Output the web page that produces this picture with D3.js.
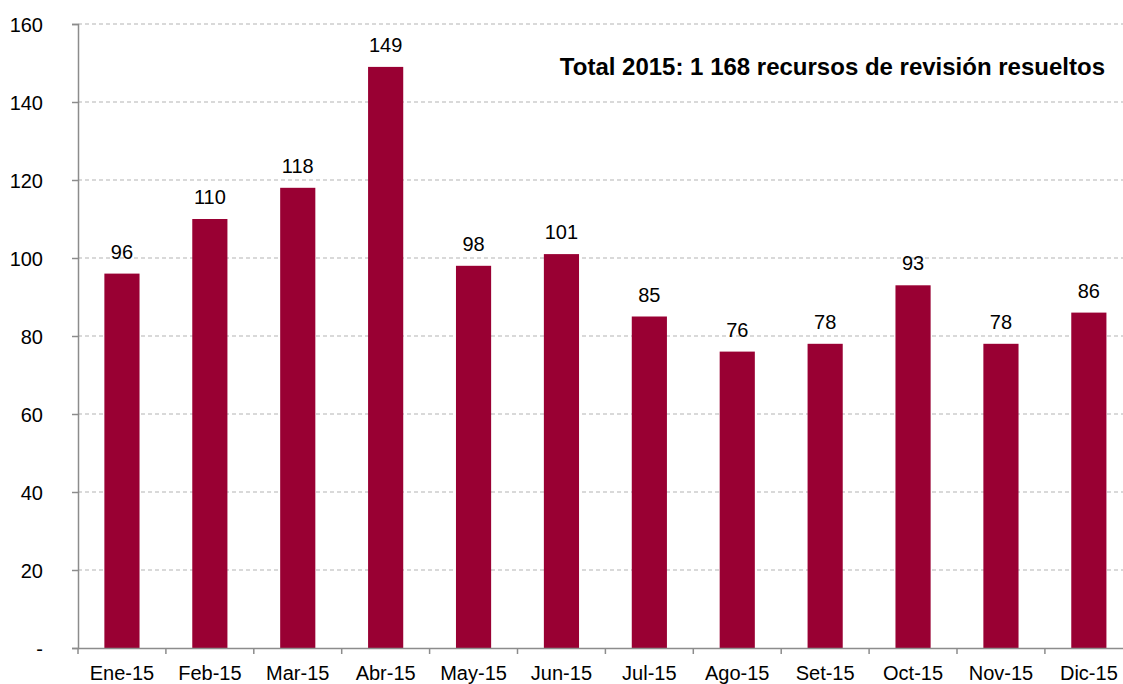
<!DOCTYPE html>
<html><head><meta charset="utf-8">
<script src="https://cdn.jsdelivr.net/npm/d3@7"></script>
<style>body{margin:0;background:#fff;} svg{display:block;font-family:"Liberation Sans",Arial,sans-serif;}</style>
</head><body>
<svg id="c" width="1123" height="684"></svg>
<script>
const categories = ["Ene-15","Feb-15","Mar-15","Abr-15","May-15","Jun-15","Jul-15","Ago-15","Set-15","Oct-15","Nov-15","Dic-15"];
const values = [96,110,118,149,98,101,85,76,78,93,78,86];
const yTicks = [0,20,40,60,80,100,120,140,160];
const title = "Total 2015: 1 168 recursos de revisión resueltos";

const svg = d3.select("#c");
const x0 = 78, bandW = 87.9, y0 = 648, y1 = 24;
const x = d3.scaleBand().domain(categories).range([x0, x0 + bandW*categories.length]).paddingInner(0.6).paddingOuter(0.3);
const y = d3.scaleLinear().domain([0,160]).range([y0, y1]);

// gridlines
svg.append("g").selectAll("line").data(yTicks.filter(d=>d>0)).join("line")
  .attr("x1", x0).attr("x2", 1123).attr("y1", d=>y(d)).attr("y2", d=>y(d))
  .attr("stroke", "#b3b3b3").attr("stroke-width", 1).attr("stroke-dasharray", "4,3");

// bars
svg.append("g").selectAll("rect").data(values).join("rect")
  .attr("x", (d,i)=>x(categories[i])).attr("width", x.bandwidth())
  .attr("y", d=>y(d)).attr("height", d=>y0 - y(d)).attr("fill", "#990033");

// value labels
svg.append("g").selectAll("text").data(values).join("text")
  .attr("x", (d,i)=>x(categories[i]) + x.bandwidth()/2).attr("y", d=>y(d) - 15)
  .attr("text-anchor","middle").attr("font-size", 20).attr("fill","#000").text(d=>d);

// y axis
const yAxis = d3.axisLeft(y).tickValues(yTicks).tickSize(6).tickFormat(d=> d===0 ? "-" : d);
const gy = svg.append("g").attr("transform", `translate(${x0},0)`).call(yAxis);
gy.select(".domain").attr("stroke","#8c8c8c").attr("stroke-width",1.5);
gy.selectAll(".tick line").attr("stroke","#8c8c8c").attr("stroke-width",1.5);
gy.selectAll(".tick text").attr("font-size",20).attr("fill","#000").attr("x",-35).attr("dy","0.36em").attr("font-family","Liberation Sans, Arial, sans-serif");

// x axis
const xAxis = d3.axisBottom(x).tickSize(0);
const gx = svg.append("g").attr("transform", `translate(0,${y0})`).call(xAxis);
gx.select(".domain").attr("stroke","#8c8c8c").attr("stroke-width",1.5).attr("d", `M${x0},0.5H1123`);
gx.selectAll(".tick text").attr("font-size",20).attr("fill","#000").attr("dy",0).attr("y",31.5).attr("font-family","Liberation Sans, Arial, sans-serif");
// band separator ticks
const seps = categories.map((c,i)=> x0 + bandW*i);
gx.append("g").selectAll("line").data(seps).join("line")
  .attr("x1", d=>d).attr("x2", d=>d).attr("y1",0).attr("y2",6)
  .attr("stroke","#8c8c8c").attr("stroke-width",1.5);

// title
svg.append("text").attr("x",1105).attr("y",74.5).attr("text-anchor","end")
  .attr("font-size",24).attr("font-weight","bold").attr("fill","#000").text(title);
</script>
</body></html>
